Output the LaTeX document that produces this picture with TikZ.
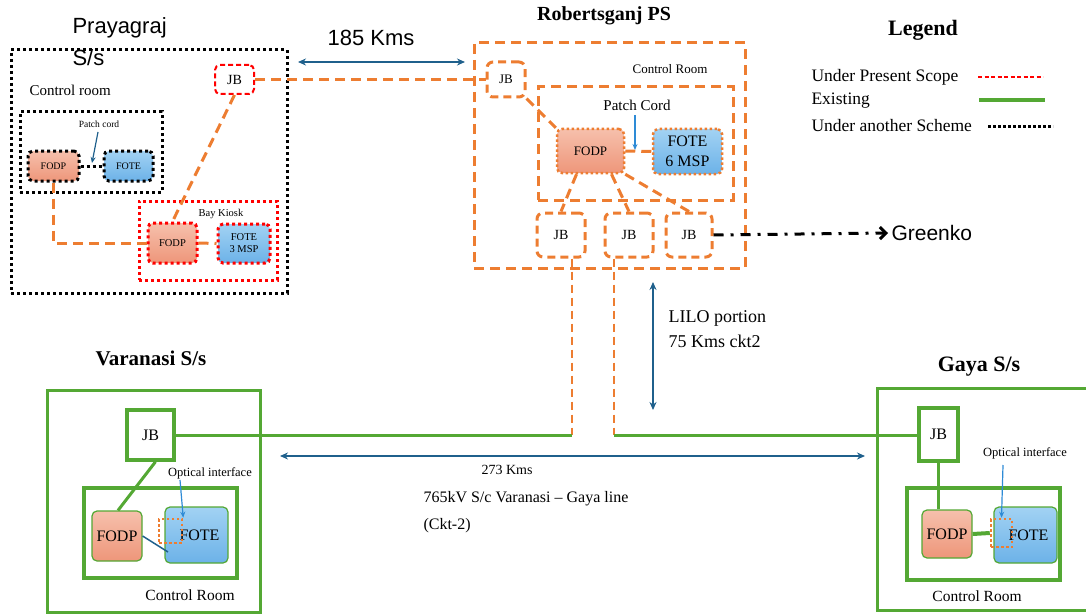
\documentclass[tikz,border=0pt]{standalone}
\usepackage{fontspec}
\setmainfont{Liberation Serif}
\newfontfamily\arialf{Liberation Sans}
\usetikzlibrary{arrows.meta}
\definecolor{org}{RGB}{237,125,49}
\definecolor{grn}{RGB}{84,168,52}
\definecolor{dblue}{RGB}{31,96,140}
\definecolor{lblue}{RGB}{46,139,214}
\definecolor{salT}{RGB}{246,192,172}
\definecolor{salB}{RGB}{238,150,122}
\definecolor{bluT}{RGB}{162,210,243}
\definecolor{bluB}{RGB}{108,178,232}
\newcommand{\fs}[2]{\fontsize{#1}{#2}\selectfont}
\begin{document}
\begin{tikzpicture}[x=1pt,y=-1pt,
  odash/.style={draw=org, line width=3pt, dash pattern=on 10pt off 6pt},
  odashs/.style={draw=org, line width=3pt, dash pattern=on 8pt off 5pt, rounded corners=6pt},
  kdot/.style={draw=black, line width=3pt, dash pattern=on 3pt off 3pt},
  rdot/.style={draw=red, line width=3pt, dash pattern=on 3pt off 3pt},
  odot/.style={draw=org, line width=2.5pt, dash pattern=on 2.5pt off 2.5pt},
  gbox/.style={draw=grn, line width=3pt},
  fodp/.style={rounded corners=5pt, top color=salT, bottom color=salB, inner sep=0pt},
  fote/.style={rounded corners=5pt, top color=bluT, bottom color=bluB, inner sep=0pt},
  darr/.style={draw=dblue, line width=1.8pt, {Stealth[length=8pt,width=7pt]}-{Stealth[length=8pt,width=7pt]}},
  parr/.style={draw=dblue, line width=1.2pt, -{Stealth[length=6pt,width=5pt]}},
  larr/.style={draw=lblue, line width=1.2pt, -{Stealth[length=6pt,width=5pt]}},
  box/.style={inner sep=0pt}]
\useasboundingbox (0,0) rectangle (1086,615);

% ---------------- Legend ----------------
\node[font=\bfseries\fs{22}{26}] (leg) at (923,30) {Legend};
\node[anchor=west, font=\fs{17.5}{20}] (l1) at (808,77) {Under Present Scope};
\node[anchor=west, font=\fs{17.5}{20}] (l2) at (808,101) {Existing};
\node[anchor=west, font=\fs{17.5}{20}] (l3) at (808,126) {Under another Scheme};
\draw[red, line width=1.5pt, dash pattern=on 4pt off 2.5pt] (978,77) -- (1043,77);
\draw[grn, line width=4pt] (979,100) -- (1045,100);
\draw[black, line width=3pt, dash pattern=on 2.5pt off 2.5pt] (988,127) -- (1053,127);

% ---------------- Prayagraj ----------------
\node[anchor=north west, align=left, font=\arialf\fs{22}{32}] (ptitle) at (69,14) {Prayagraj\\S/s};
\node[box, kdot, minimum width=276pt, minimum height=243pt] (pout) at (149,171.5) {};
\node[anchor=west, font=\fs{15}{18}] (pcr) at (26,90) {Control room};
\node[box, kdot, minimum width=142pt, minimum height=80pt] (pin) at (91,152) {};
\node[font=\fs{9.5}{11}] (ppc) at (99,124) {Patch cord};
\node[fodp, kdot, minimum width=51pt, minimum height=30pt, font=\fs{10}{12}] (pfodp) at (53.5,166) {FODP};
\node[fote, kdot, minimum width=49pt, minimum height=30pt, font=\fs{10}{12}] (pfote) at (128.5,166) {FOTE};
\node[box, draw=red, line width=2pt, dash pattern=on 5pt off 3pt, rounded corners=5pt, minimum width=39pt, minimum height=29pt, font=\fs{14}{16}] (pjb) at (234.5,79.5) {JB};
\node[box, rdot, minimum width=138pt, minimum height=79pt] (bay) at (208,240.5) {};
\node[font=\fs{10.5}{12}] (bayt) at (221,214) {Bay Kiosk};
\node[fodp, rdot, minimum width=49pt, minimum height=40pt, font=\fs{10.5}{12}] (pfodp2) at (172.5,243) {FODP};
\node[fote, rdot, minimum width=52pt, minimum height=39pt, align=center, font=\fs{10.5}{12}] (pfote2) at (244,243.5) {FOTE\\3 MSP};
\draw[kdot] (pfodp.east) -- (pfote.west);
\draw[parr] (98,132) -- (92,163);
\draw[odash] (pjb.south) -- (pfodp2.north);
\draw[odash] (pfodp.south) -- (pfodp.south |- pfodp2.west) -- (pfodp2.west);
\draw[odash] (pfodp2.east) -- (pfote2.west);

% ---------------- Robertsganj ----------------
\node[font=\bfseries\fs{20}{24}] (rtitle) at (604,16) {Robertsganj PS};
\node[box, odash, minimum width=271pt, minimum height=225pt] (rout) at (609.5,155.5) {};
\node[font=\fs{13}{15}] (rcr) at (670,69) {Control Room};
\node[box, odashs, minimum width=38pt, minimum height=35pt, font=\fs{13}{15}] (rjb) at (506,79.5) {JB};
\node[box, odash, minimum width=195pt, minimum height=113pt] (rin) at (635.5,143.5) {};
\node[font=\fs{15}{18}] (rpc) at (637,105) {Patch Cord};
\node[fodp, odot, minimum width=67pt, minimum height=44pt, font=\fs{13}{15}] (rfodp) at (590.5,151) {FODP};
\node[fote, odot, minimum width=69pt, minimum height=45pt, align=center, font=\fs{16}{20}] (rfote) at (687.5,151.5) {FOTE\\6 MSP};
\node[box, odashs, minimum width=48pt, minimum height=44pt, font=\fs{14}{16}] (jb1) at (561,235) {JB};
\node[box, odashs, minimum width=48pt, minimum height=44pt, font=\fs{14}{16}] (jb2) at (629,235) {JB};
\node[box, odashs, minimum width=46pt, minimum height=44pt, font=\fs{14}{16}] (jb3) at (689,235) {JB};
\draw[odash] (rjb.south east) -- (rfodp.north west);
\draw[odash] (rfodp.east) -- (rfote.west);
\draw[larr] (635,115) -- (635,150);
\draw[odash] ([xshift=-14pt]rfodp.south) -- (jb1.north);
\draw[odash] ([xshift=21pt]rfodp.south) -- (jb2.north);
\draw[odash] (rfodp.south east) -- (jb3.north);
\draw[odash] (pjb.east) -- (rjb.west);
\draw[darr] (298,62) -- (465,62);
\node[font=\arialf\fs{22}{26}] (k185) at (371,38) {185 Kms};
\node[anchor=west, font=\arialf\fs{21}{24}] (greenko) at (888,233) {Greenko};
\draw[black, line width=3pt, dash pattern=on 10pt off 7pt on 3pt off 7pt, -{Straight Barb[length=6pt,width=12pt]}] (jb3.east) -- (greenko.west);

% ---------------- LILO ----------------
\coordinate (lv) at (572,435);
\coordinate (lg) at (614,435);
\draw[odash, line width=2.5pt, dash pattern=on 8pt off 5pt] (jb1.south -| lv) -- (lv);
\draw[odash, line width=2.5pt, dash pattern=on 8pt off 5pt] (jb2.south -| lg) -- (lg);
\draw[darr, line width=1.5pt] (653,282) -- (653,410);
\node[anchor=north west, align=left, font=\fs{18}{25}] (lilo) at (665,307) {LILO portion\\75 Kms ckt2};

% ---------------- Varanasi ----------------
\node[font=\bfseries\fs{21}{24}] (vtitle) at (151,358) {Varanasi S/s};
\node[box, gbox, minimum width=213pt, minimum height=222pt] (vout) at (153.5,501) {};
\node[box, gbox, line width=3.5pt, minimum width=47pt, minimum height=50pt, font=\fs{16}{18}] (vjb) at (150.5,435) {JB};
\node[box, gbox, line width=3.5pt, minimum width=153pt, minimum height=90pt] (vin) at (160.5,533) {};
\node[fodp, draw=grn, line width=1.2pt, minimum width=50pt, minimum height=50pt, font=\fs{16}{18}] (vfodp) at (117,536) {FODP};
\node[fote, draw=grn, line width=1.2pt, minimum width=63pt, minimum height=56pt, font=\fs{16}{18}] (vfote) at (196.5,535) {\hspace{6pt}FOTE};
\node[box, odot, minimum width=23pt, minimum height=24pt] (vopt) at (170.5,531) {};
\node[font=\fs{12.5}{14}] (voi) at (210,473) {Optical interface};
\node[font=\fs{15.5}{18}] (vcr) at (190,595) {Control Room};
\draw[gbox] ([xshift=5pt]vjb.south) -- ([xshift=1pt]vfodp.north);
\draw[dblue, line width=1.5pt] (vfodp.east) -- (168,552);
\draw[larr] (180,480) -- (vopt.north east);

% ---------------- Gaya ----------------
\node[font=\bfseries\fs{22}{26}] (gtitle) at (979,367) {Gaya S/s};
\draw[gbox] (1086,388) -- (877,388) -- (877,610) -- (1086,610);
\node[box, gbox, line width=3.5pt, minimum width=39pt, minimum height=53pt, font=\fs{16}{18}] (gjb) at (938.5,434.5) {JB};
\node[box, gbox, line width=3.5pt, minimum width=153pt, minimum height=92pt] (gin) at (983.5,534) {};
\node[fodp, draw=grn, line width=1.2pt, minimum width=50pt, minimum height=48pt, font=\fs{16}{18}] (gfodp) at (947,534) {FODP};
\node[fote, draw=grn, line width=1.2pt, minimum width=63pt, minimum height=56pt, font=\fs{16}{18}] (gfote) at (1025.5,535) {\hspace{6pt}FOTE};
\node[box, odot, minimum width=21pt, minimum height=28pt] (gopt) at (1001.5,533) {};
\node[font=\fs{12.5}{14}] (goi) at (1025,453) {Optical interface};
\node[font=\fs{15.5}{18}] (gcr) at (977,596) {Control Room};
\draw[gbox] (gjb.south) -- (gjb.south |- gfodp.north);
\draw[grn, line width=4pt] (gfodp.east) -- (gopt.west);
\draw[larr] (1003,465) -- (gopt.north);

% ---------------- main line ----------------
\draw[gbox] (vjb.east |- lv) -- (lv);
\draw[gbox] (lg) -- (gjb.west |- lg);
\draw[darr, line width=1.5pt] (280,456) -- (865,456);
\node[font=\fs{14}{16}] (k273) at (507,470) {273 Kms};
\node[anchor=north west, align=left, font=\fs{16}{27}] (line) at (420,488) {765kV S/c Varanasi -- Gaya line\\(Ckt-2)};
\end{tikzpicture}
\end{document}
